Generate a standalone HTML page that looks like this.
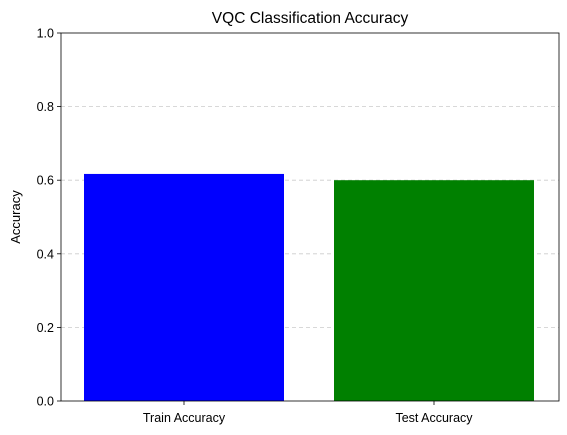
<!DOCTYPE html>
<html><head><meta charset="utf-8"><style>
html,body{margin:0;padding:0;background:#fff;}
svg{display:block;font-family:"Liberation Sans","DejaVu Sans",sans-serif;}
</style></head><body>
<svg id="chart" width="567" height="435" viewBox="0 0 567 435" xmlns="http://www.w3.org/2000/svg">
<text x="310" y="23" text-anchor="middle" font-size="15.5" fill="#000">VQC Classification Accuracy</text>
<text transform="translate(20,217) rotate(-90)" text-anchor="middle" font-size="13">Accuracy</text>
<g id="grid"></g><g id="bars"></g><g id="axes"></g>
</svg>
<script>
const categories = ["Train Accuracy", "Test Accuracy"];
const values = [0.617, 0.6];
const colors = ["#0000ff", "#008000"];
const yTicks = [0, 0.2, 0.4, 0.6, 0.8, 1.0];
const yTickLabels = ["0.0", "0.2", "0.4", "0.6", "0.8", "1.0"];

const L = 61, R = 559, T = 33, B = 401;
const xMin = -0.492, xMax = 1.5;
const x = v => L + (v - xMin) / (xMax - xMin) * (R - L);
const y = v => B - v * (B - T);
const NS = "http://www.w3.org/2000/svg";
function mk(tag, attrs, parent) {
  const e = document.createElementNS(NS, tag);
  for (const k in attrs) e.setAttribute(k, attrs[k]);
  parent.appendChild(e);
  return e;
}
const grid = document.getElementById("grid"), bars = document.getElementById("bars"), axes = document.getElementById("axes");
yTicks.forEach((t, i) => {
  if (t > 0 && t < 1) {
    const g = mk("line", {x1: L, x2: R, y1: y(t), y2: y(t), stroke: "#cccccc", "stroke-width": 0.8, "stroke-dasharray": "4,3"}, grid);
    
    
  }
  const tk = mk("line", {x1: L - 4, x2: L, y1: y(t), y2: y(t), stroke: "#000", "stroke-width": 0.8}, axes);
  
  
  const lb = mk("text", {x: L - 7, y: y(t) + 4.5, "text-anchor": "end", "font-size": 12.5}, axes);
  lb.textContent = yTickLabels[i];
  
  
});
const bw = 0.8;
categories.forEach((c, i) => {
  const r = mk("rect", {x: x(i - bw / 2), y: y(values[i]), width: x(i + bw / 2) - x(i - bw / 2), height: y(0) - y(values[i]), fill: colors[i]}, bars);
  
  
  const tk = mk("line", {x1: x(i), x2: x(i), y1: B, y2: B + 4, stroke: "#000", "stroke-width": 0.8}, axes);
  
  
  const lb = mk("text", {x: x(i), y: B + 21, "text-anchor": "middle", "font-size": 12.5}, axes);
  lb.textContent = c;
  
  
});
const frame = mk("rect", {x: L, y: T, width: R - L, height: B - T, fill: "none", stroke: "#000", "stroke-width": 0.8}, axes);


</script>
</body></html>
